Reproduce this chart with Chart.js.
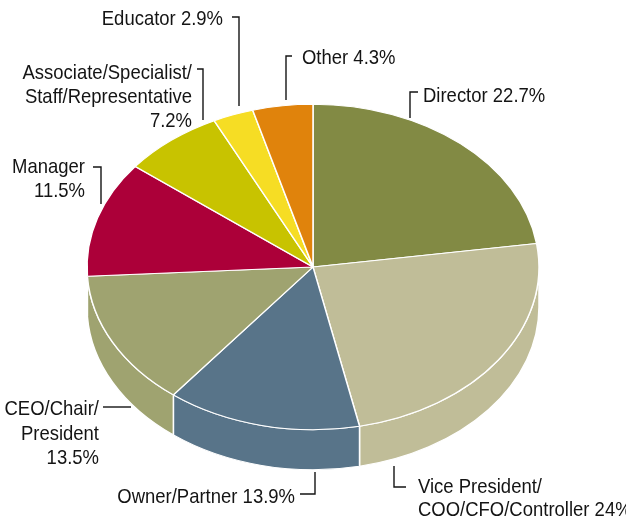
<!DOCTYPE html>
<html>
<head>
<meta charset="utf-8">
<script src="https://cdn.jsdelivr.net/npm/chart.js@4.4.0/dist/chart.umd.min.js"></script>
<style>
  body { margin: 0; background: #fff; }
  #wrap { width: 626px; height: 525px; position: relative; }
</style>
</head>
<body>
<div id="wrap"><canvas id="pie"></canvas></div>
<script>
// data
var categories = ["Director", "Vice President/COO/CFO/Controller", "Owner/Partner",
    "CEO/Chair/President", "Manager", "Associate/Specialist/Staff/Representative",
    "Educator", "Other"];
var shares = [22.7, 24, 13.9, 13.5, 11.5, 7.2, 2.9, 4.3];
var labelLines = [
    ["Director 22.7%"],
    ["Vice President/", "COO/CFO/Controller 24%"],
    ["Owner/Partner 13.9%"],
    ["CEO/Chair/", "President", "13.5%"],
    ["Manager", "11.5%"],
    ["Associate/Specialist/", "Staff/Representative", "7.2%"],
    ["Educator 2.9%"],
    ["Other 4.3%"]
];
var colors = ["#828a44", "#c0bd98", "#587489", "#9fa370", "#ac0039", "#c8c300", "#f6dd24", "#e0830c"];

// layout of the callouts (text anchor, baselines, leader polyline)
var callouts = [
    { x: 423, ys: [102], align: "left", lead: [[410, 118], [410, 92], [418, 92]] },
    { x: 418, ys: [493, 516], align: "left", lead: [[394, 466], [394, 487], [406, 487]] },
    { x: 295, ys: [503], align: "right", lead: [[300, 494], [315, 494], [315, 472]] },
    { x: 99, ys: [415, 440, 464], align: "right", lead: [[103, 407], [131, 407]] },
    { x: 85, ys: [173, 197], align: "right", lead: [[93, 167], [101, 167], [101, 204]] },
    { x: 192, ys: [79, 103, 127], align: "right", lead: [[197, 69], [203, 69], [203, 120]] },
    { x: 223, ys: [25], align: "right", lead: [[232, 17], [239, 17], [239, 106]] },
    { x: 302, ys: [64], align: "left", lead: [[286, 100], [286, 56], [292, 56]] }
];

var PIE_CY = 267;
var TILT = 0.72;
var DEPTH = 40;
var FONT = "21px 'Liberation Sans', Arial, sans-serif";
var NARROW = 0.88;

var tiltPlugin = {
    id: "tilt",
    beforeDatasetsDraw: function (chart) {
        let ctx = chart.ctx;
        let arcs = chart.getDatasetMeta(0).data;
        let cx = arcs[0].x, cy = arcs[0].y;
        ctx.save();
        ctx.translate(0, PIE_CY);
        ctx.scale(1, TILT);
        ctx.translate(0, -cy);
        // side walls for the front half
        let d = DEPTH / TILT;
        arcs.forEach(function (arc, i) {
            let s = Math.max(arc.startAngle, 0);
            let e = Math.min(arc.endAngle, Math.PI);
            if (e <= s) return;
            let r = arc.outerRadius;
            ctx.beginPath();
            ctx.arc(cx, cy, r, s, e);
            ctx.arc(cx, cy + d, r, e, s, true);
            ctx.closePath();
            ctx.fillStyle = colors[i];
            ctx.fill();
            ctx.lineWidth = 1.5;
            ctx.strokeStyle = "#fff";
            ctx.stroke();
        });
    },
    afterDatasetsDraw: function (chart) {
        chart.ctx.restore();
    },
    afterDraw: function (chart) {
        let ctx = chart.ctx;
        ctx.save();
        ctx.font = FONT;
        ctx.fillStyle = "#141414";
        ctx.strokeStyle = "#141414";
        ctx.lineWidth = 1.4;
        ctx.textBaseline = "alphabetic";
        callouts.forEach(function (c, i) {
            ctx.textAlign = c.align;
            labelLines[i].forEach(function (line, j) {
                ctx.save();
                ctx.translate(c.x, c.ys[j]);
                ctx.scale(NARROW, 1);
                ctx.fillText(line, 0, 0);
                ctx.restore();
            });
            ctx.beginPath();
            c.lead.forEach(function (p, k) {
                if (k == 0) ctx.moveTo(p[0], p[1]);
                else ctx.lineTo(p[0], p[1]);
            });
            ctx.stroke();
        });
        ctx.restore();
    }
};

new Chart(document.getElementById("pie"), {
    type: "pie",
    data: {
        labels: categories,
        datasets: [{
            data: shares,
            backgroundColor: colors,
            borderColor: "#fff",
            borderWidth: 1.5,
            radius: 226,
            clip: false
        }]
    },
    options: {
        responsive: true,
        maintainAspectRatio: false,
        animation: false,
        events: [],
        layout: { padding: { left: 87, right: 87, top: 0, bottom: 75 } },
        plugins: {
            legend: { display: false },
            tooltip: { enabled: false }
        }
    },
    plugins: [tiltPlugin]
});
</script>
</body>
</html>
